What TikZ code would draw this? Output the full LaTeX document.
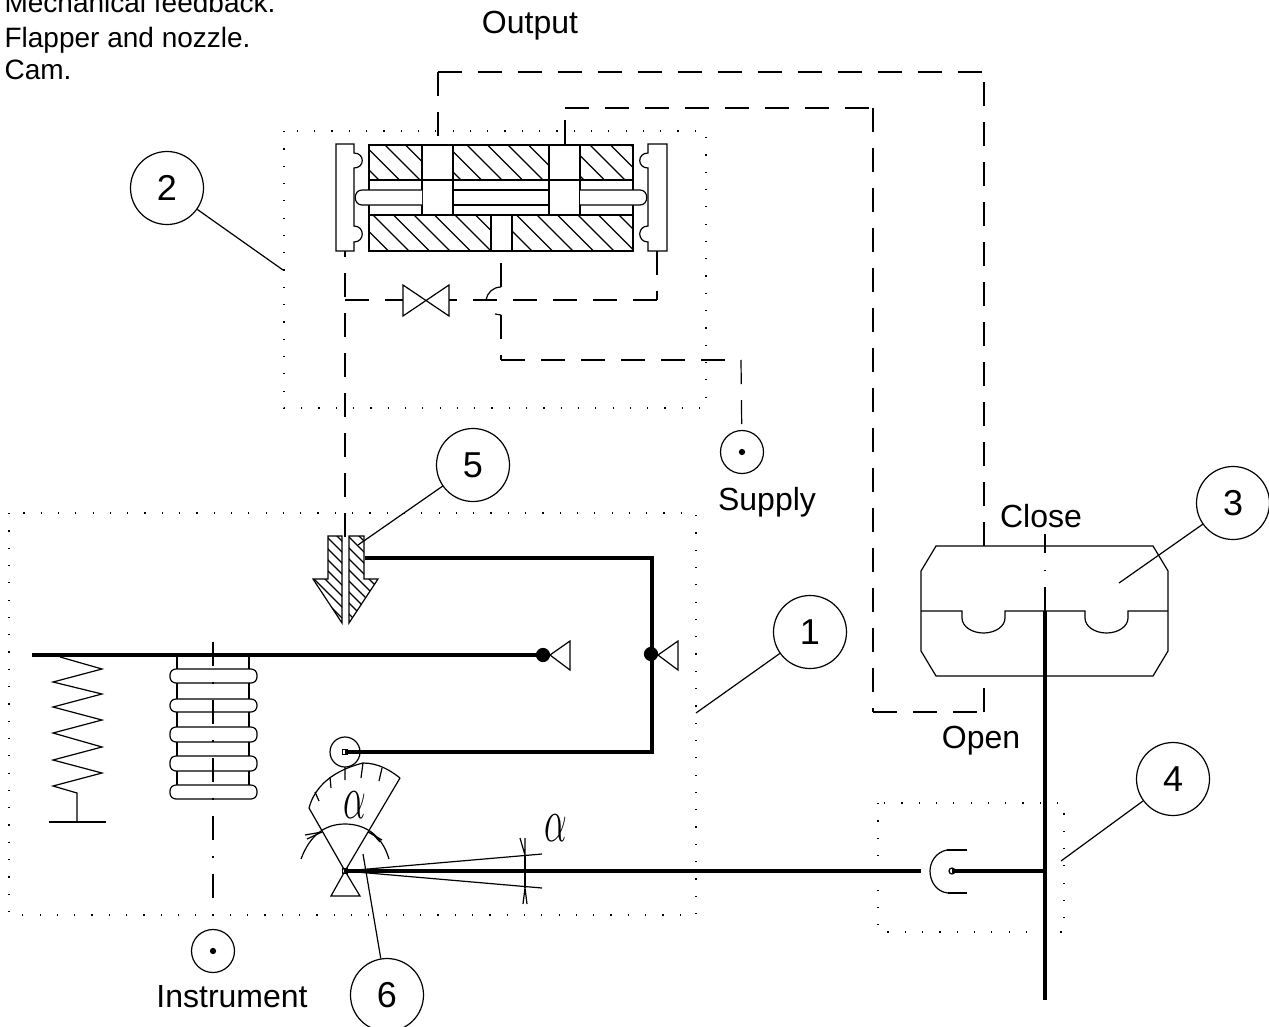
\documentclass[tikz,border=0pt]{standalone}
\usepackage{fontspec}
\setmainfont{Liberation Sans}
\usepackage{tikz}
\tikzset{
  thin line/.style = {line width = 1.2pt},
  heavy/.style = {line width = 4.4pt},
  air/.style = {line width = 1.2pt, dash pattern = on 24pt off 16pt},
  axis/.style = {line width = 1.2pt, dash pattern = on 24pt off 16pt on 1.5pt off 16.5pt},
  frame/.style = {line width = 1.2pt, dash pattern = on 1.2pt off 16.1pt},
  num/.style = {circle, draw, line width = 1.2pt, minimum size = 73pt, inner sep = 0pt, font = \fontsize{36}{36}\selectfont},
  lab/.style = {inner sep = 0pt, font = \fontsize{32}{32}\selectfont},
  note/.style = {inner sep = 0pt, anchor = base west, font = \fontsize{28}{28}\selectfont},
  port/.style = {circle, draw, line width = 1.2pt, minimum size = 43pt, inner sep = 0pt},
  dot/.style = {circle, draw, line width = 1.2pt, fill = black, minimum size = 5pt, inner sep = 0pt},
  greek/.style = {inner sep = 0pt, font = \fontsize{66}{66}\selectfont, xscale = 1.45, yscale = 2.5}
}
\begin{document}
\begin{tikzpicture}[x = 1pt, y = -1pt, thin line]
\useasboundingbox (0,0) rectangle (1269,1026);
% dotted frames
\draw[frame] (284,131) rectangle (706,408);
\draw[frame] (9,513) rectangle (696,915);
\draw[frame] (878,803) rectangle (1064,932);
% text
\draw (4,12) node[note](t1){Mechanical feedback.}
    (4,47) node[note](t2){Flapper and nozzle.}
    (4,79) node[note](t3){Cam.}
    (530,26) node[lab](t4){Output}
    (767,502) node[lab](t5){Supply}
    (1041,516) node[lab](t6){Close}
    (981,741) node[lab](t7){Open}
    (232,997) node[lab](t8){Instrument};
\draw (355,805) node[greek](g1){$\alpha$}
    (556,828) node[greek](g2){$\alpha$};
% numbered circles
\draw (810,632) node[num](a1){1}
    (167,188) node[num](a2){2}
    (1233,503) node[num](a3){3}
    (1173,779) node[num](a4){4}
    (473,465) node[num](a5){5}
    (387,995) node[num](a6){6};
\coordinate (e1) at (696,713);
\coordinate (e2) at (283,270);
\coordinate (e3) at (1119,583);
\coordinate (e4) at (1061,861);
\coordinate (e5) at (358,545);
\coordinate (e6) at (363,854);
\draw (a1) -- (e1);
\draw (a2) -- (e2);
\draw (a3) -- (e3);
\draw (a4) -- (e4);
\draw (a5) -- (e5);
\draw (a6) -- (e6);
% ports
\draw (742,452) node[port](p1){}
    (213,951) node[port](p2){};
\draw (742,452) node[dot](p1c){}
    (213,951) node[dot](p2c){};
% valve body hatching
\begin{scope}
\clip (369,145) rectangle (422,180) (453,145) rectangle (549,180) (580,145) rectangle (633,180)
    (369,215) rectangle (491,251) (512,215) rectangle (633,251);
\foreach \c in {117,137.5,...,500}
    \draw (\c+100,100) -- (\c+300,300);
\end{scope}
\draw (369,145) rectangle (633,251);
\draw (369,180) -- (633,180);
\draw (369,215) -- (633,215);
\draw (422,145) -- (422,215) (453,145) -- (453,215);
\draw (549,145) -- (549,215) (580,145) -- (580,215);
\draw (491,215) -- (491,251) (512,215) -- (512,251);
% spool
\draw[fill = white] (422,190) -- (362,190) .. controls (353,190) and (353,205) .. (362,205) -- (422,205);
\draw (453,190) -- (549,190) (453,205) -- (549,205);
\draw[fill = white] (580,190) -- (640,190) .. controls (649,190) and (649,205) .. (640,205) -- (580,205);
% end caps
\draw (336,144) -- (354,144) -- (354,153) .. controls (365,153) and (365,168) .. (354,168) -- (354,226)
    .. controls (365,226) and (365,242) .. (354,242) -- (354,251) -- (336,251) -- cycle;
\draw (667,144) -- (648,144) -- (648,153) .. controls (637,153) and (637,168) .. (648,168) -- (648,226)
    .. controls (637,226) and (637,242) .. (648,242) -- (648,251) -- (667,251) -- cycle;
% bypass valve
\draw (403,285) -- (449,316) -- (449,285) -- (403,316) -- cycle;
% air lines
\coordinate (b1) at (345,251);
\coordinate (b2) at (345,537);
\coordinate (b3) at (345,300);
\coordinate (b4) at (403,300);
\coordinate (b5) at (449,300);
\coordinate (b6) at (657,300);
\coordinate (b7) at (657,251);
\coordinate (s1) at (501,251);
\coordinate (s2) at (501,287);
\coordinate (s3) at (486,300);
\coordinate (s4) at (495,314);
\coordinate (s5) at (501,315);
\coordinate (s6) at (501,360);
\coordinate (s7) at (741,360);
\coordinate (o1) at (438,144);
\coordinate (o2) at (438,72);
\coordinate (o3) at (984,72);
\coordinate (o4) at (984,546);
\coordinate (r1) at (565,144);
\coordinate (r2) at (565,108);
\coordinate (r3) at (873,108);
\coordinate (r4) at (873,712);
\coordinate (r5) at (984,712);
\coordinate (r6) at (984,677);
\draw[air] (b2) -- (b1);
\draw[air] (b3) -- (b4);
\draw[air] (b6) -- (b5);
\draw[air] (b7) -- (b6);
\draw[air] (s2) -- (s1);
\draw (s2) .. controls (493,287) and (487,293) .. (s3);
\draw (s4) -- (s5);
\draw[air] (s5) -- (s6);
\draw[air] (s6) -- (s7);
\draw[air] (s7) -- (p1);
\draw[air] (o2) -- (o1);
\draw[air] (o2) -- (o3);
\draw[air] (o4) -- (o3);
\draw[air] (r1) -- (r2);
\draw[air] (r2) -- (r3);
\draw[air] (r3) -- (r4);
\draw[air] (r4) -- (r5);
\draw[air] (r5) -- (r6);
% actuator
\draw (936,546) -- (1153,546) -- (1168,571) -- (1168,651) -- (1153,676) -- (936,676) -- (921,651) -- (921,571) -- cycle;
\draw (921,611) -- (962,611) -- (962,618) arc[start angle = 180, end angle = 0, x radius = 21.5, y radius = 15] -- (1005,611) -- (1085,611)
    -- (1085,618) arc[start angle = 180, end angle = 0, x radius = 21.5, y radius = 15] -- (1128,611) -- (1168,611);
\draw[axis] (1045,611) -- (1045,534);
% spring
\draw (60,657) -- (102,669) -- (53,682) -- (102,694) -- (53,707) -- (102,720) -- (53,733) -- (102,747) -- (53,760) -- (102,773) -- (53,786) -- (77,793) -- (77,822);
\draw (49,822) -- (106,822);
% bellows
\draw[axis] (213,642) -- (p2);
\foreach \t/\b in {669/683,699/712,727/742,756/771,785/799}
    \draw[rounded corners = 6pt] (170,\t) rectangle (257,\b);
\foreach \t/\b in {655/669,683/699,712/727,742/756,771/785}
    \draw (177,\t) -- (177,\b) (249,\t) -- (249,\b);
% nozzle
\begin{scope}
\clip (328,536) -- (342,536) -- (342,623) -- (313,579) -- (328,579) -- cycle
    (349,536) -- (364,536) -- (364,579) -- (378,579) -- (349,623) -- cycle;
\foreach \c in {-320,-309,...,-150}
    \draw (\c+200,200) -- (\c+700,700);
\end{scope}
\draw (328,536) -- (342,536) -- (342,623) -- (313,579) -- (328,579) -- cycle;
\draw (349,536) -- (364,536) -- (364,579) -- (378,579) -- (349,623) -- cycle;
% links
\coordinate (k1) at (365,558);
\coordinate (k2) at (652,558);
\coordinate (k3) at (652,752);
\coordinate (k4) at (345,752);
\coordinate (f1) at (32,655);
\coordinate (f2) at (543,655);
\coordinate (h1) at (345,871);
\coordinate (h2) at (921,871);
\coordinate (h3) at (952,871);
\coordinate (h4) at (1045,871);
\coordinate (v1) at (1045,611);
\coordinate (v2) at (1045,1000);
\draw[heavy, line join = miter] (k1) -- (k2) -- (k3) -- (k4);
\draw[heavy] (f1) -- (f2);
\draw[heavy] (h1) -- (h2);
\draw[heavy] (h3) -- (h4);
\draw[heavy] (v1) -- (v2);
\draw (543,655) node[dot, minimum size = 13pt](d1){}
    (651,654) node[dot, minimum size = 13pt](d2){};
\draw (550,655) -- (570,641) -- (570,670) -- cycle;
\draw (658,655) -- (678,641) -- (678,670) -- cycle;
% cam roller
\draw (345,752) node[circle, draw, minimum size = 30pt, inner sep = 0pt](c1){};
\draw (345,752) node[draw, minimum size = 5pt, inner sep = 0pt](c2){};
% sector
\draw (345,871) -- (309,808);
\draw (345,871) -- (400,778);
\draw (309,808) .. controls (315,785) and (335,770) .. (363,763) .. controls (378,763) and (390,770) .. (400,778);
\draw (315,792) -- (319,801) (330,777) -- (331,788) (345,767) -- (345,780) (363,763) -- (361,778) (382,768) -- (379,781);
\draw (301,859) .. controls (310,835) and (325,824) .. (345,824) .. controls (365,824) and (382,835) .. (389,859);
\draw (322,832) -- (305,835) (322,832) -- (307,839);
\draw (368,832) -- (382,840) (371,832) -- (380,842);
% pivot and angle
\draw (345,871) -- (331,896) -- (360,896) -- cycle;
\draw (345,871) node[draw, minimum size = 5pt, inner sep = 0pt](c3){};
\coordinate (w1) at (542,854);
\coordinate (w2) at (542,888);
\draw (c3) -- (w1);
\draw (c3) -- (w2);
\draw (525,855) -- (525,888);
\draw (520,838) -- (525,855) -- (525,838);
\draw (523,904) -- (525,888) -- (527,904);
% follower
\draw (947,850) .. controls (936,852) and (930,862) .. (930,871) .. controls (930,882) and (937,892) .. (948,893);
\draw (947,850) -- (967,850) (948,893) -- (967,893);
\draw (952,871) node[circle, draw, minimum size = 6pt, inner sep = 0pt](c4){};
\end{tikzpicture}
\end{document}
